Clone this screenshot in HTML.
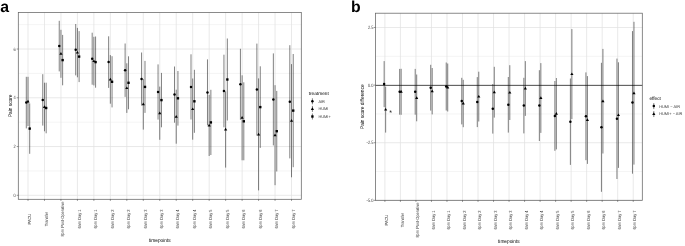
<!DOCTYPE html><html><head><meta charset="utf-8"><style>html,body{margin:0;padding:0;background:#fff;width:685px;height:246px;overflow:hidden}svg{display:block;will-change:transform} text{text-rendering:geometricPrecision}</style></head><body>
<svg width="685" height="246" viewBox="0 0 685 246" font-family="Liberation Sans, sans-serif">
<rect width="685" height="246" fill="#fff"/>
<line x1="18.3" x2="301.3" y1="170.92" y2="170.92" stroke="#ebebeb" stroke-width="0.55"/>
<line x1="18.3" x2="301.3" y1="122.16" y2="122.16" stroke="#ebebeb" stroke-width="0.55"/>
<line x1="18.3" x2="301.3" y1="73.40" y2="73.40" stroke="#ebebeb" stroke-width="0.55"/>
<line x1="18.3" x2="301.3" y1="24.64" y2="24.64" stroke="#ebebeb" stroke-width="0.55"/>
<line x1="18.3" x2="301.3" y1="195.30" y2="195.30" stroke="#e2e2e2" stroke-width="0.75"/>
<line x1="18.3" x2="301.3" y1="146.54" y2="146.54" stroke="#e2e2e2" stroke-width="0.75"/>
<line x1="18.3" x2="301.3" y1="97.78" y2="97.78" stroke="#e2e2e2" stroke-width="0.75"/>
<line x1="18.3" x2="301.3" y1="49.02" y2="49.02" stroke="#e2e2e2" stroke-width="0.75"/>
<line x1="28.00" x2="28.00" y1="12.4" y2="199.3" stroke="#e2e2e2" stroke-width="0.75"/>
<line x1="44.47" x2="44.47" y1="12.4" y2="199.3" stroke="#e2e2e2" stroke-width="0.75"/>
<line x1="60.94" x2="60.94" y1="12.4" y2="199.3" stroke="#e2e2e2" stroke-width="0.75"/>
<line x1="77.41" x2="77.41" y1="12.4" y2="199.3" stroke="#e2e2e2" stroke-width="0.75"/>
<line x1="93.88" x2="93.88" y1="12.4" y2="199.3" stroke="#e2e2e2" stroke-width="0.75"/>
<line x1="110.35" x2="110.35" y1="12.4" y2="199.3" stroke="#e2e2e2" stroke-width="0.75"/>
<line x1="126.82" x2="126.82" y1="12.4" y2="199.3" stroke="#e2e2e2" stroke-width="0.75"/>
<line x1="143.29" x2="143.29" y1="12.4" y2="199.3" stroke="#e2e2e2" stroke-width="0.75"/>
<line x1="159.76" x2="159.76" y1="12.4" y2="199.3" stroke="#e2e2e2" stroke-width="0.75"/>
<line x1="176.23" x2="176.23" y1="12.4" y2="199.3" stroke="#e2e2e2" stroke-width="0.75"/>
<line x1="192.70" x2="192.70" y1="12.4" y2="199.3" stroke="#e2e2e2" stroke-width="0.75"/>
<line x1="209.17" x2="209.17" y1="12.4" y2="199.3" stroke="#e2e2e2" stroke-width="0.75"/>
<line x1="225.64" x2="225.64" y1="12.4" y2="199.3" stroke="#e2e2e2" stroke-width="0.75"/>
<line x1="242.11" x2="242.11" y1="12.4" y2="199.3" stroke="#e2e2e2" stroke-width="0.75"/>
<line x1="258.58" x2="258.58" y1="12.4" y2="199.3" stroke="#e2e2e2" stroke-width="0.75"/>
<line x1="275.05" x2="275.05" y1="12.4" y2="199.3" stroke="#e2e2e2" stroke-width="0.75"/>
<line x1="291.52" x2="291.52" y1="12.4" y2="199.3" stroke="#e2e2e2" stroke-width="0.75"/>
<line x1="26.30" x2="26.30" y1="76.80" y2="128.40" stroke="#000000" stroke-width="0.5"/>
<line x1="28.00" x2="28.00" y1="76.80" y2="126.00" stroke="#000000" stroke-width="0.5"/>
<line x1="29.70" x2="29.70" y1="103.40" y2="153.80" stroke="#000000" stroke-width="0.5"/>
<circle cx="26.30" cy="102.60" r="1.25"/>
<path d="M28.00,99.71L29.60,102.41L26.40,102.41Z"/>
<rect x="28.51" y="127.41" width="2.38" height="2.38"/>
<line x1="42.77" x2="42.77" y1="74.20" y2="125.60" stroke="#000000" stroke-width="0.5"/>
<line x1="44.47" x2="44.47" y1="82.70" y2="131.30" stroke="#000000" stroke-width="0.5"/>
<line x1="46.17" x2="46.17" y1="82.70" y2="133.30" stroke="#000000" stroke-width="0.5"/>
<circle cx="42.77" cy="99.90" r="1.25"/>
<path d="M44.47,105.31L46.07,108.01L42.87,108.01Z"/>
<rect x="44.98" y="106.81" width="2.38" height="2.38"/>
<line x1="59.24" x2="59.24" y1="20.80" y2="71.40" stroke="#000000" stroke-width="0.5"/>
<line x1="60.94" x2="60.94" y1="29.80" y2="77.80" stroke="#000000" stroke-width="0.5"/>
<line x1="62.64" x2="62.64" y1="34.90" y2="85.30" stroke="#000000" stroke-width="0.5"/>
<circle cx="59.24" cy="46.10" r="1.25"/>
<path d="M60.94,52.11L62.54,54.81L59.34,54.81Z"/>
<rect x="61.45" y="58.91" width="2.38" height="2.38"/>
<line x1="75.71" x2="75.71" y1="24.00" y2="75.40" stroke="#000000" stroke-width="0.5"/>
<line x1="77.41" x2="77.41" y1="27.90" y2="77.30" stroke="#000000" stroke-width="0.5"/>
<line x1="79.11" x2="79.11" y1="31.10" y2="82.10" stroke="#000000" stroke-width="0.5"/>
<circle cx="75.71" cy="49.70" r="1.25"/>
<path d="M77.41,50.91L79.01,53.61L75.81,53.61Z"/>
<rect x="77.92" y="55.41" width="2.38" height="2.38"/>
<line x1="92.18" x2="92.18" y1="32.70" y2="84.70" stroke="#000000" stroke-width="0.5"/>
<line x1="93.88" x2="93.88" y1="36.80" y2="85.40" stroke="#000000" stroke-width="0.5"/>
<line x1="95.58" x2="95.58" y1="36.50" y2="87.70" stroke="#000000" stroke-width="0.5"/>
<circle cx="92.18" cy="58.70" r="1.25"/>
<path d="M93.88,59.41L95.48,62.11L92.28,62.11Z"/>
<rect x="94.39" y="60.91" width="2.38" height="2.38"/>
<line x1="108.65" x2="108.65" y1="36.30" y2="87.90" stroke="#000000" stroke-width="0.5"/>
<line x1="110.35" x2="110.35" y1="55.10" y2="103.70" stroke="#000000" stroke-width="0.5"/>
<line x1="112.05" x2="112.05" y1="56.20" y2="107.40" stroke="#000000" stroke-width="0.5"/>
<circle cx="108.65" cy="62.10" r="1.25"/>
<path d="M110.35,77.71L111.95,80.41L108.75,80.41Z"/>
<rect x="110.86" y="80.61" width="2.38" height="2.38"/>
<line x1="125.12" x2="125.12" y1="43.50" y2="96.90" stroke="#000000" stroke-width="0.5"/>
<line x1="126.82" x2="126.82" y1="63.30" y2="112.90" stroke="#000000" stroke-width="0.5"/>
<line x1="128.52" x2="128.52" y1="56.30" y2="109.30" stroke="#000000" stroke-width="0.5"/>
<circle cx="125.12" cy="70.20" r="1.25"/>
<path d="M126.82,86.41L128.42,89.11L125.22,89.11Z"/>
<rect x="127.33" y="81.61" width="2.38" height="2.38"/>
<line x1="141.59" x2="141.59" y1="52.50" y2="105.50" stroke="#000000" stroke-width="0.5"/>
<line x1="143.29" x2="143.29" y1="79.00" y2="129.60" stroke="#000000" stroke-width="0.5"/>
<line x1="144.99" x2="144.99" y1="60.90" y2="112.90" stroke="#000000" stroke-width="0.5"/>
<circle cx="141.59" cy="79.00" r="1.25"/>
<path d="M143.29,102.61L144.89,105.31L141.69,105.31Z"/>
<rect x="143.80" y="85.71" width="2.38" height="2.38"/>
<line x1="158.06" x2="158.06" y1="64.40" y2="119.60" stroke="#000000" stroke-width="0.5"/>
<line x1="159.76" x2="159.76" y1="86.60" y2="139.80" stroke="#000000" stroke-width="0.5"/>
<line x1="161.46" x2="161.46" y1="72.90" y2="127.30" stroke="#000000" stroke-width="0.5"/>
<circle cx="158.06" cy="92.00" r="1.25"/>
<path d="M159.76,111.51L161.36,114.21L158.16,114.21Z"/>
<rect x="160.27" y="98.91" width="2.38" height="2.38"/>
<line x1="174.53" x2="174.53" y1="66.50" y2="122.70" stroke="#000000" stroke-width="0.5"/>
<line x1="176.23" x2="176.23" y1="89.70" y2="143.70" stroke="#000000" stroke-width="0.5"/>
<line x1="177.93" x2="177.93" y1="71.00" y2="125.60" stroke="#000000" stroke-width="0.5"/>
<circle cx="174.53" cy="94.60" r="1.25"/>
<path d="M176.23,115.01L177.83,117.71L174.63,117.71Z"/>
<rect x="176.74" y="97.11" width="2.38" height="2.38"/>
<line x1="191.00" x2="191.00" y1="54.30" y2="119.50" stroke="#000000" stroke-width="0.5"/>
<line x1="192.70" x2="192.70" y1="78.50" y2="139.70" stroke="#000000" stroke-width="0.5"/>
<line x1="194.40" x2="194.40" y1="69.80" y2="132.80" stroke="#000000" stroke-width="0.5"/>
<circle cx="191.00" cy="86.90" r="1.25"/>
<path d="M192.70,107.41L194.30,110.11L191.10,110.11Z"/>
<rect x="193.21" y="100.11" width="2.38" height="2.38"/>
<line x1="207.47" x2="207.47" y1="59.40" y2="125.40" stroke="#000000" stroke-width="0.5"/>
<line x1="209.17" x2="209.17" y1="94.80" y2="156.00" stroke="#000000" stroke-width="0.5"/>
<line x1="210.87" x2="210.87" y1="89.80" y2="155.00" stroke="#000000" stroke-width="0.5"/>
<circle cx="207.47" cy="92.40" r="1.25"/>
<path d="M209.17,123.71L210.77,126.41L207.57,126.41Z"/>
<rect x="209.68" y="121.21" width="2.38" height="2.38"/>
<line x1="223.94" x2="223.94" y1="54.70" y2="127.30" stroke="#000000" stroke-width="0.5"/>
<line x1="225.64" x2="225.64" y1="91.40" y2="167.60" stroke="#000000" stroke-width="0.5"/>
<line x1="227.34" x2="227.34" y1="38.50" y2="120.50" stroke="#000000" stroke-width="0.5"/>
<circle cx="223.94" cy="91.00" r="1.25"/>
<path d="M225.64,127.81L227.24,130.51L224.04,130.51Z"/>
<rect x="226.15" y="78.31" width="2.38" height="2.38"/>
<line x1="240.41" x2="240.41" y1="48.80" y2="119.80" stroke="#000000" stroke-width="0.5"/>
<line x1="242.11" x2="242.11" y1="75.30" y2="160.30" stroke="#000000" stroke-width="0.5"/>
<line x1="243.81" x2="243.81" y1="82.30" y2="160.30" stroke="#000000" stroke-width="0.5"/>
<circle cx="240.41" cy="84.30" r="1.25"/>
<path d="M242.11,116.11L243.71,118.81L240.51,118.81Z"/>
<rect x="242.62" y="120.11" width="2.38" height="2.38"/>
<line x1="256.88" x2="256.88" y1="43.60" y2="135.60" stroke="#000000" stroke-width="0.5"/>
<line x1="258.58" x2="258.58" y1="78.40" y2="190.40" stroke="#000000" stroke-width="0.5"/>
<line x1="260.28" x2="260.28" y1="66.30" y2="147.90" stroke="#000000" stroke-width="0.5"/>
<circle cx="256.88" cy="89.60" r="1.25"/>
<path d="M258.58,132.71L260.18,135.41L256.98,135.41Z"/>
<rect x="259.09" y="105.91" width="2.38" height="2.38"/>
<line x1="273.35" x2="273.35" y1="53.40" y2="145.40" stroke="#000000" stroke-width="0.5"/>
<line x1="275.05" x2="275.05" y1="85.20" y2="185.20" stroke="#000000" stroke-width="0.5"/>
<line x1="276.75" x2="276.75" y1="90.90" y2="171.50" stroke="#000000" stroke-width="0.5"/>
<circle cx="273.35" cy="99.40" r="1.25"/>
<path d="M275.05,133.51L276.65,136.21L273.45,136.21Z"/>
<rect x="275.56" y="130.01" width="2.38" height="2.38"/>
<line x1="289.82" x2="289.82" y1="45.20" y2="158.40" stroke="#000000" stroke-width="0.5"/>
<line x1="291.52" x2="291.52" y1="64.10" y2="177.30" stroke="#000000" stroke-width="0.5"/>
<line x1="293.22" x2="293.22" y1="54.00" y2="167.20" stroke="#000000" stroke-width="0.5"/>
<circle cx="289.82" cy="101.80" r="1.25"/>
<path d="M291.52,119.01L293.12,121.71L289.92,121.71Z"/>
<rect x="292.03" y="109.41" width="2.38" height="2.38"/>
<rect x="18.3" y="12.4" width="283.00" height="186.90" fill="none" stroke="#646464" stroke-width="0.75"/>
<line x1="16.70" x2="18.3" y1="195.30" y2="195.30" stroke="#333333" stroke-width="0.5"/>
<text transform="translate(15.80,197.01) scale(1,1.2)" font-size="3.95" fill="#3a3a3a" text-anchor="end">0</text>
<line x1="16.70" x2="18.3" y1="146.54" y2="146.54" stroke="#333333" stroke-width="0.5"/>
<text transform="translate(15.80,148.25) scale(1,1.2)" font-size="3.95" fill="#3a3a3a" text-anchor="end">2</text>
<line x1="16.70" x2="18.3" y1="97.78" y2="97.78" stroke="#333333" stroke-width="0.5"/>
<text transform="translate(15.80,99.49) scale(1,1.2)" font-size="3.95" fill="#3a3a3a" text-anchor="end">4</text>
<line x1="16.70" x2="18.3" y1="49.02" y2="49.02" stroke="#333333" stroke-width="0.5"/>
<text transform="translate(15.80,50.73) scale(1,1.2)" font-size="3.95" fill="#3a3a3a" text-anchor="end">6</text>
<line x1="28.00" x2="28.00" y1="199.3" y2="200.90" stroke="#333333" stroke-width="0.5"/>
<text transform="translate(31.22,219.10) rotate(-90) scale(1,1.12)" font-size="3.95" fill="#3a3a3a" text-anchor="middle">PACU</text>
<line x1="44.47" x2="44.47" y1="199.3" y2="200.90" stroke="#333333" stroke-width="0.5"/>
<text transform="translate(47.69,219.10) rotate(-90) scale(1,1.12)" font-size="3.95" fill="#3a3a3a" text-anchor="middle">Transfer</text>
<line x1="60.94" x2="60.94" y1="199.3" y2="200.90" stroke="#333333" stroke-width="0.5"/>
<text transform="translate(64.16,219.10) rotate(-90) scale(1,1.12)" font-size="3.95" fill="#3a3a3a" text-anchor="middle">8pm Post-Operative</text>
<line x1="77.41" x2="77.41" y1="199.3" y2="200.90" stroke="#333333" stroke-width="0.5"/>
<text transform="translate(80.63,219.10) rotate(-90) scale(1,1.12)" font-size="3.95" fill="#3a3a3a" text-anchor="middle">6am Day 1</text>
<line x1="93.88" x2="93.88" y1="199.3" y2="200.90" stroke="#333333" stroke-width="0.5"/>
<text transform="translate(97.10,219.10) rotate(-90) scale(1,1.12)" font-size="3.95" fill="#3a3a3a" text-anchor="middle">6pm Day 1</text>
<line x1="110.35" x2="110.35" y1="199.3" y2="200.90" stroke="#333333" stroke-width="0.5"/>
<text transform="translate(113.57,219.10) rotate(-90) scale(1,1.12)" font-size="3.95" fill="#3a3a3a" text-anchor="middle">6am Day 2</text>
<line x1="126.82" x2="126.82" y1="199.3" y2="200.90" stroke="#333333" stroke-width="0.5"/>
<text transform="translate(130.04,219.10) rotate(-90) scale(1,1.12)" font-size="3.95" fill="#3a3a3a" text-anchor="middle">6pm Day 2</text>
<line x1="143.29" x2="143.29" y1="199.3" y2="200.90" stroke="#333333" stroke-width="0.5"/>
<text transform="translate(146.51,219.10) rotate(-90) scale(1,1.12)" font-size="3.95" fill="#3a3a3a" text-anchor="middle">6am Day 3</text>
<line x1="159.76" x2="159.76" y1="199.3" y2="200.90" stroke="#333333" stroke-width="0.5"/>
<text transform="translate(162.98,219.10) rotate(-90) scale(1,1.12)" font-size="3.95" fill="#3a3a3a" text-anchor="middle">6pm Day 3</text>
<line x1="176.23" x2="176.23" y1="199.3" y2="200.90" stroke="#333333" stroke-width="0.5"/>
<text transform="translate(179.45,219.10) rotate(-90) scale(1,1.12)" font-size="3.95" fill="#3a3a3a" text-anchor="middle">6am Day 4</text>
<line x1="192.70" x2="192.70" y1="199.3" y2="200.90" stroke="#333333" stroke-width="0.5"/>
<text transform="translate(195.92,219.10) rotate(-90) scale(1,1.12)" font-size="3.95" fill="#3a3a3a" text-anchor="middle">6pm Day 4</text>
<line x1="209.17" x2="209.17" y1="199.3" y2="200.90" stroke="#333333" stroke-width="0.5"/>
<text transform="translate(212.39,219.10) rotate(-90) scale(1,1.12)" font-size="3.95" fill="#3a3a3a" text-anchor="middle">6am Day 5</text>
<line x1="225.64" x2="225.64" y1="199.3" y2="200.90" stroke="#333333" stroke-width="0.5"/>
<text transform="translate(228.86,219.10) rotate(-90) scale(1,1.12)" font-size="3.95" fill="#3a3a3a" text-anchor="middle">6pm Day 5</text>
<line x1="242.11" x2="242.11" y1="199.3" y2="200.90" stroke="#333333" stroke-width="0.5"/>
<text transform="translate(245.33,219.10) rotate(-90) scale(1,1.12)" font-size="3.95" fill="#3a3a3a" text-anchor="middle">6am Day 6</text>
<line x1="258.58" x2="258.58" y1="199.3" y2="200.90" stroke="#333333" stroke-width="0.5"/>
<text transform="translate(261.80,219.10) rotate(-90) scale(1,1.12)" font-size="3.95" fill="#3a3a3a" text-anchor="middle">6pm Day 6</text>
<line x1="275.05" x2="275.05" y1="199.3" y2="200.90" stroke="#333333" stroke-width="0.5"/>
<text transform="translate(278.27,219.10) rotate(-90) scale(1,1.12)" font-size="3.95" fill="#3a3a3a" text-anchor="middle">6am Day 7</text>
<line x1="291.52" x2="291.52" y1="199.3" y2="200.90" stroke="#333333" stroke-width="0.5"/>
<text transform="translate(294.74,219.10) rotate(-90) scale(1,1.12)" font-size="3.95" fill="#3a3a3a" text-anchor="middle">6pm Day 7</text>
<text transform="translate(159.80,241.90) scale(1,1.12)" font-size="4.75" fill="#000" text-anchor="middle">timepoints</text>
<text transform="translate(12.40,105.85) rotate(-90) scale(1,1.12)" font-size="4.75" fill="#000" text-anchor="middle">Pain score</text>
<text x="0.2" y="11.8" font-size="15.8" font-weight="bold" fill="#000">a</text>
<text x="308.7" y="94.80" font-size="4.75" fill="#000">treatment</text>
<line x1="312.40" x2="312.40" y1="98.30" y2="104.30" stroke="#000" stroke-width="0.5"/>
<circle cx="312.40" cy="101.30" r="1.25"/>
<text x="318.4" y="102.72" font-size="3.95" fill="#3a3a3a">AIR</text>
<line x1="312.40" x2="312.40" y1="105.90" y2="111.90" stroke="#000" stroke-width="0.5"/>
<path d="M312.40,107.21L314.00,109.91L310.80,109.91Z"/>
<text x="318.4" y="110.32" font-size="3.95" fill="#3a3a3a">HUMI</text>
<line x1="312.40" x2="312.40" y1="113.50" y2="119.50" stroke="#000" stroke-width="0.5"/>
<rect x="311.21" y="115.31" width="2.38" height="2.38"/>
<text x="318.4" y="117.92" font-size="3.95" fill="#3a3a3a">HUMI+</text>
<line x1="375.4" x2="642.3" y1="56.29" y2="56.29" stroke="#ebebeb" stroke-width="0.55"/>
<line x1="375.4" x2="642.3" y1="113.91" y2="113.91" stroke="#ebebeb" stroke-width="0.55"/>
<line x1="375.4" x2="642.3" y1="171.54" y2="171.54" stroke="#ebebeb" stroke-width="0.55"/>
<line x1="375.4" x2="642.3" y1="27.47" y2="27.47" stroke="#e2e2e2" stroke-width="0.75"/>
<line x1="375.4" x2="642.3" y1="85.10" y2="85.10" stroke="#e2e2e2" stroke-width="0.75"/>
<line x1="375.4" x2="642.3" y1="142.72" y2="142.72" stroke="#e2e2e2" stroke-width="0.75"/>
<line x1="375.4" x2="642.3" y1="200.35" y2="200.35" stroke="#e2e2e2" stroke-width="0.75"/>
<line x1="384.90" x2="384.90" y1="13.2" y2="200.3" stroke="#e2e2e2" stroke-width="0.75"/>
<line x1="400.42" x2="400.42" y1="13.2" y2="200.3" stroke="#e2e2e2" stroke-width="0.75"/>
<line x1="415.94" x2="415.94" y1="13.2" y2="200.3" stroke="#e2e2e2" stroke-width="0.75"/>
<line x1="431.46" x2="431.46" y1="13.2" y2="200.3" stroke="#e2e2e2" stroke-width="0.75"/>
<line x1="446.98" x2="446.98" y1="13.2" y2="200.3" stroke="#e2e2e2" stroke-width="0.75"/>
<line x1="462.50" x2="462.50" y1="13.2" y2="200.3" stroke="#e2e2e2" stroke-width="0.75"/>
<line x1="478.02" x2="478.02" y1="13.2" y2="200.3" stroke="#e2e2e2" stroke-width="0.75"/>
<line x1="493.54" x2="493.54" y1="13.2" y2="200.3" stroke="#e2e2e2" stroke-width="0.75"/>
<line x1="509.06" x2="509.06" y1="13.2" y2="200.3" stroke="#e2e2e2" stroke-width="0.75"/>
<line x1="524.58" x2="524.58" y1="13.2" y2="200.3" stroke="#e2e2e2" stroke-width="0.75"/>
<line x1="540.10" x2="540.10" y1="13.2" y2="200.3" stroke="#e2e2e2" stroke-width="0.75"/>
<line x1="555.62" x2="555.62" y1="13.2" y2="200.3" stroke="#e2e2e2" stroke-width="0.75"/>
<line x1="571.14" x2="571.14" y1="13.2" y2="200.3" stroke="#e2e2e2" stroke-width="0.75"/>
<line x1="586.66" x2="586.66" y1="13.2" y2="200.3" stroke="#e2e2e2" stroke-width="0.75"/>
<line x1="602.18" x2="602.18" y1="13.2" y2="200.3" stroke="#e2e2e2" stroke-width="0.75"/>
<line x1="617.70" x2="617.70" y1="13.2" y2="200.3" stroke="#e2e2e2" stroke-width="0.75"/>
<line x1="633.22" x2="633.22" y1="13.2" y2="200.3" stroke="#e2e2e2" stroke-width="0.75"/>
<line x1="375.4" x2="642.3" y1="85.40" y2="85.40" stroke="#111" stroke-width="0.7"/>
<line x1="384.15" x2="384.15" y1="61.10" y2="107.10" stroke="#000000" stroke-width="0.5"/>
<line x1="385.65" x2="385.65" y1="86.60" y2="132.60" stroke="#000000" stroke-width="0.5"/>
<circle cx="384.15" cy="84.10" r="1.25"/>
<path d="M385.65,107.91L387.25,110.61L384.05,110.61Z"/>
<line x1="399.67" x2="399.67" y1="68.90" y2="114.70" stroke="#000000" stroke-width="0.5"/>
<line x1="401.17" x2="401.17" y1="68.80" y2="114.80" stroke="#000000" stroke-width="0.5"/>
<circle cx="399.67" cy="91.80" r="1.25"/>
<path d="M401.17,90.11L402.77,92.81L399.57,92.81Z"/>
<line x1="415.19" x2="415.19" y1="68.90" y2="114.70" stroke="#000000" stroke-width="0.5"/>
<line x1="416.69" x2="416.69" y1="74.50" y2="121.30" stroke="#000000" stroke-width="0.5"/>
<circle cx="415.19" cy="91.80" r="1.25"/>
<path d="M416.69,96.21L418.29,98.91L415.09,98.91Z"/>
<line x1="430.71" x2="430.71" y1="64.80" y2="110.60" stroke="#000000" stroke-width="0.5"/>
<line x1="432.21" x2="432.21" y1="68.00" y2="114.40" stroke="#000000" stroke-width="0.5"/>
<circle cx="430.71" cy="87.70" r="1.25"/>
<path d="M432.21,89.51L433.81,92.21L430.61,92.21Z"/>
<line x1="446.23" x2="446.23" y1="62.50" y2="110.50" stroke="#000000" stroke-width="0.5"/>
<line x1="447.73" x2="447.73" y1="63.50" y2="111.50" stroke="#000000" stroke-width="0.5"/>
<circle cx="446.23" cy="86.50" r="1.25"/>
<path d="M447.73,85.81L449.33,88.51L446.13,88.51Z"/>
<line x1="461.75" x2="461.75" y1="77.80" y2="124.40" stroke="#000000" stroke-width="0.5"/>
<line x1="463.25" x2="463.25" y1="79.80" y2="127.20" stroke="#000000" stroke-width="0.5"/>
<circle cx="461.75" cy="101.10" r="1.25"/>
<path d="M463.25,101.81L464.85,104.51L461.65,104.51Z"/>
<line x1="477.27" x2="477.27" y1="77.10" y2="127.10" stroke="#000000" stroke-width="0.5"/>
<line x1="478.77" x2="478.77" y1="71.70" y2="121.50" stroke="#000000" stroke-width="0.5"/>
<circle cx="477.27" cy="102.10" r="1.25"/>
<path d="M478.77,94.91L480.37,97.61L477.17,97.61Z"/>
<line x1="492.79" x2="492.79" y1="84.00" y2="133.60" stroke="#000000" stroke-width="0.5"/>
<line x1="494.29" x2="494.29" y1="66.80" y2="117.60" stroke="#000000" stroke-width="0.5"/>
<circle cx="492.79" cy="108.80" r="1.25"/>
<path d="M494.29,90.51L495.89,93.21L492.69,93.21Z"/>
<line x1="508.31" x2="508.31" y1="77.00" y2="132.60" stroke="#000000" stroke-width="0.5"/>
<line x1="509.81" x2="509.81" y1="65.20" y2="120.00" stroke="#000000" stroke-width="0.5"/>
<circle cx="508.31" cy="104.80" r="1.25"/>
<path d="M509.81,90.91L511.41,93.61L508.21,93.61Z"/>
<line x1="523.83" x2="523.83" y1="77.80" y2="133.40" stroke="#000000" stroke-width="0.5"/>
<line x1="525.33" x2="525.33" y1="61.10" y2="115.90" stroke="#000000" stroke-width="0.5"/>
<circle cx="523.83" cy="105.60" r="1.25"/>
<path d="M525.33,86.81L526.93,89.51L523.73,89.51Z"/>
<line x1="539.35" x2="539.35" y1="70.20" y2="141.00" stroke="#000000" stroke-width="0.5"/>
<line x1="540.85" x2="540.85" y1="63.10" y2="132.90" stroke="#000000" stroke-width="0.5"/>
<circle cx="539.35" cy="105.60" r="1.25"/>
<path d="M540.85,96.31L542.45,99.01L539.25,99.01Z"/>
<line x1="554.87" x2="554.87" y1="81.00" y2="150.80" stroke="#000000" stroke-width="0.5"/>
<line x1="556.37" x2="556.37" y1="78.00" y2="149.40" stroke="#000000" stroke-width="0.5"/>
<circle cx="554.87" cy="115.90" r="1.25"/>
<path d="M556.37,112.01L557.97,114.71L554.77,114.71Z"/>
<line x1="570.39" x2="570.39" y1="78.50" y2="164.90" stroke="#000000" stroke-width="0.5"/>
<line x1="571.89" x2="571.89" y1="29.10" y2="119.10" stroke="#000000" stroke-width="0.5"/>
<circle cx="570.39" cy="121.70" r="1.25"/>
<path d="M571.89,72.41L573.49,75.11L570.29,75.11Z"/>
<line x1="585.91" x2="585.91" y1="72.40" y2="160.20" stroke="#000000" stroke-width="0.5"/>
<line x1="587.41" x2="587.41" y1="76.10" y2="163.90" stroke="#000000" stroke-width="0.5"/>
<circle cx="585.91" cy="116.30" r="1.25"/>
<path d="M587.41,118.31L589.01,121.01L585.81,121.01Z"/>
<line x1="601.43" x2="601.43" y1="62.80" y2="191.80" stroke="#000000" stroke-width="0.5"/>
<line x1="602.93" x2="602.93" y1="48.90" y2="153.50" stroke="#000000" stroke-width="0.5"/>
<circle cx="601.43" cy="127.30" r="1.25"/>
<path d="M602.93,99.51L604.53,102.21L601.33,102.21Z"/>
<line x1="616.95" x2="616.95" y1="58.60" y2="179.00" stroke="#000000" stroke-width="0.5"/>
<line x1="618.45" x2="618.45" y1="62.30" y2="167.90" stroke="#000000" stroke-width="0.5"/>
<circle cx="616.95" cy="118.80" r="1.25"/>
<path d="M618.45,113.41L620.05,116.11L616.85,116.11Z"/>
<line x1="632.47" x2="632.47" y1="31.10" y2="173.70" stroke="#000000" stroke-width="0.5"/>
<line x1="633.97" x2="633.97" y1="21.80" y2="164.60" stroke="#000000" stroke-width="0.5"/>
<circle cx="632.47" cy="102.40" r="1.25"/>
<path d="M633.97,91.51L635.57,94.21L632.37,94.21Z"/>
<rect x="375.4" y="13.2" width="266.90" height="187.10" fill="none" stroke="#646464" stroke-width="0.75"/>
<line x1="373.80" x2="375.4" y1="27.47" y2="27.47" stroke="#333333" stroke-width="0.5"/>
<text transform="translate(373.40,29.18) scale(1,1.2)" font-size="3.95" fill="#3a3a3a" text-anchor="end">2.5</text>
<line x1="373.80" x2="375.4" y1="85.10" y2="85.10" stroke="#333333" stroke-width="0.5"/>
<text transform="translate(373.40,86.81) scale(1,1.2)" font-size="3.95" fill="#3a3a3a" text-anchor="end">0.0</text>
<line x1="373.80" x2="375.4" y1="142.72" y2="142.72" stroke="#333333" stroke-width="0.5"/>
<text transform="translate(373.40,144.43) scale(1,1.2)" font-size="3.95" fill="#3a3a3a" text-anchor="end">-2.5</text>
<line x1="373.80" x2="375.4" y1="200.35" y2="200.35" stroke="#333333" stroke-width="0.5"/>
<text transform="translate(373.40,202.06) scale(1,1.2)" font-size="3.95" fill="#3a3a3a" text-anchor="end">-5.0</text>
<line x1="384.90" x2="384.90" y1="200.3" y2="201.90" stroke="#333333" stroke-width="0.5"/>
<text transform="translate(388.12,220.10) rotate(-90) scale(1,1.12)" font-size="3.95" fill="#3a3a3a" text-anchor="middle">PACU</text>
<line x1="400.42" x2="400.42" y1="200.3" y2="201.90" stroke="#333333" stroke-width="0.5"/>
<text transform="translate(403.64,220.10) rotate(-90) scale(1,1.12)" font-size="3.95" fill="#3a3a3a" text-anchor="middle">Transfer</text>
<line x1="415.94" x2="415.94" y1="200.3" y2="201.90" stroke="#333333" stroke-width="0.5"/>
<text transform="translate(419.16,220.10) rotate(-90) scale(1,1.12)" font-size="3.95" fill="#3a3a3a" text-anchor="middle">8pm Post-Operative</text>
<line x1="431.46" x2="431.46" y1="200.3" y2="201.90" stroke="#333333" stroke-width="0.5"/>
<text transform="translate(434.68,220.10) rotate(-90) scale(1,1.12)" font-size="3.95" fill="#3a3a3a" text-anchor="middle">6am Day 1</text>
<line x1="446.98" x2="446.98" y1="200.3" y2="201.90" stroke="#333333" stroke-width="0.5"/>
<text transform="translate(450.20,220.10) rotate(-90) scale(1,1.12)" font-size="3.95" fill="#3a3a3a" text-anchor="middle">6pm Day 1</text>
<line x1="462.50" x2="462.50" y1="200.3" y2="201.90" stroke="#333333" stroke-width="0.5"/>
<text transform="translate(465.72,220.10) rotate(-90) scale(1,1.12)" font-size="3.95" fill="#3a3a3a" text-anchor="middle">6am Day 2</text>
<line x1="478.02" x2="478.02" y1="200.3" y2="201.90" stroke="#333333" stroke-width="0.5"/>
<text transform="translate(481.24,220.10) rotate(-90) scale(1,1.12)" font-size="3.95" fill="#3a3a3a" text-anchor="middle">6pm Day 2</text>
<line x1="493.54" x2="493.54" y1="200.3" y2="201.90" stroke="#333333" stroke-width="0.5"/>
<text transform="translate(496.76,220.10) rotate(-90) scale(1,1.12)" font-size="3.95" fill="#3a3a3a" text-anchor="middle">6am Day 3</text>
<line x1="509.06" x2="509.06" y1="200.3" y2="201.90" stroke="#333333" stroke-width="0.5"/>
<text transform="translate(512.28,220.10) rotate(-90) scale(1,1.12)" font-size="3.95" fill="#3a3a3a" text-anchor="middle">6pm Day 3</text>
<line x1="524.58" x2="524.58" y1="200.3" y2="201.90" stroke="#333333" stroke-width="0.5"/>
<text transform="translate(527.80,220.10) rotate(-90) scale(1,1.12)" font-size="3.95" fill="#3a3a3a" text-anchor="middle">6am Day 4</text>
<line x1="540.10" x2="540.10" y1="200.3" y2="201.90" stroke="#333333" stroke-width="0.5"/>
<text transform="translate(543.32,220.10) rotate(-90) scale(1,1.12)" font-size="3.95" fill="#3a3a3a" text-anchor="middle">6pm Day 4</text>
<line x1="555.62" x2="555.62" y1="200.3" y2="201.90" stroke="#333333" stroke-width="0.5"/>
<text transform="translate(558.84,220.10) rotate(-90) scale(1,1.12)" font-size="3.95" fill="#3a3a3a" text-anchor="middle">6am Day 5</text>
<line x1="571.14" x2="571.14" y1="200.3" y2="201.90" stroke="#333333" stroke-width="0.5"/>
<text transform="translate(574.36,220.10) rotate(-90) scale(1,1.12)" font-size="3.95" fill="#3a3a3a" text-anchor="middle">6pm Day 5</text>
<line x1="586.66" x2="586.66" y1="200.3" y2="201.90" stroke="#333333" stroke-width="0.5"/>
<text transform="translate(589.88,220.10) rotate(-90) scale(1,1.12)" font-size="3.95" fill="#3a3a3a" text-anchor="middle">6am Day 6</text>
<line x1="602.18" x2="602.18" y1="200.3" y2="201.90" stroke="#333333" stroke-width="0.5"/>
<text transform="translate(605.40,220.10) rotate(-90) scale(1,1.12)" font-size="3.95" fill="#3a3a3a" text-anchor="middle">6pm Day 6</text>
<line x1="617.70" x2="617.70" y1="200.3" y2="201.90" stroke="#333333" stroke-width="0.5"/>
<text transform="translate(620.92,220.10) rotate(-90) scale(1,1.12)" font-size="3.95" fill="#3a3a3a" text-anchor="middle">6am Day 7</text>
<line x1="633.22" x2="633.22" y1="200.3" y2="201.90" stroke="#333333" stroke-width="0.5"/>
<text transform="translate(636.44,220.10) rotate(-90) scale(1,1.12)" font-size="3.95" fill="#3a3a3a" text-anchor="middle">6pm Day 7</text>
<text transform="translate(508.85,242.90) scale(1,1.12)" font-size="4.75" fill="#000" text-anchor="middle">timepoints</text>
<text transform="translate(364.00,106.75) rotate(-90) scale(1,1.12)" font-size="4.75" fill="#000" text-anchor="middle">Pain score difference</text>
<text x="351.0" y="11.8" font-size="15.8" font-weight="bold" fill="#000">b</text>
<text x="649.4" y="99.50" font-size="4.75" fill="#000">effect</text>
<line x1="653.80" x2="653.80" y1="103.10" y2="109.10" stroke="#000" stroke-width="0.5"/>
<circle cx="653.80" cy="106.10" r="1.25"/>
<text x="659.2" y="107.52" font-size="3.95" fill="#3a3a3a">HUMI − AIR</text>
<line x1="653.80" x2="653.80" y1="111.05" y2="117.05" stroke="#000" stroke-width="0.5"/>
<path d="M653.80,112.36L655.40,115.06L652.20,115.06Z"/>
<text x="659.2" y="115.47" font-size="3.95" fill="#3a3a3a">HUMI+ − AIR</text>
<text x="390.5" y="115.3" font-size="7" fill="#000" text-anchor="middle">*</text>
</svg></body></html>
